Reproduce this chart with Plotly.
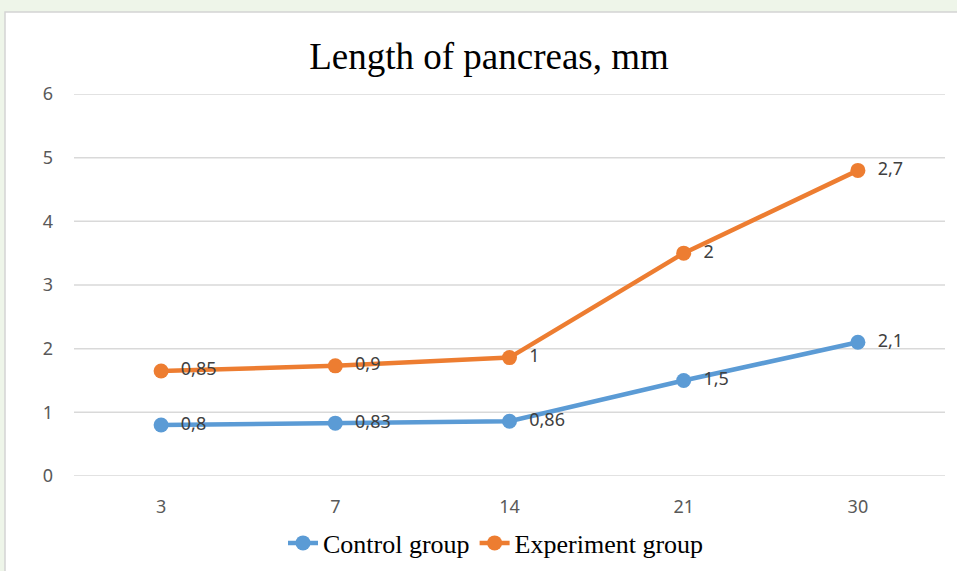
import plotly.graph_objects as go
import numpy as np

days = ["3", "7", "14", "21", "30"]
control = [0.8, 0.83, 0.86, 1.5, 2.1]
experiment = [0.85, 0.9, 1.0, 2.0, 2.7]
y_ticks = [0, 1, 2, 3, 4, 5, 6]
title_text = "Length of pancreas, mm"

def fmt(v):
    s = ("%g" % v).replace(".", ",")
    return "  " + s

# stacked line chart (as in the original spreadsheet chart)
stack_control = np.array(control)
stack_experiment = stack_control + np.array(experiment)

blue = "#5B9BD5"
orange = "#ED7D31"
sans = "Noto Sans, Open Sans, sans-serif"
serif = "Liberation Serif, Times New Roman, serif"
label_font = dict(family=sans, size=18, color="#404040")

fig = go.Figure()
fig.add_trace(go.Scatter(
    x=days, y=stack_control, name="Control group", mode="lines+markers+text",
    line=dict(color=blue, width=4.5), marker=dict(color=blue, size=15),
    text=[fmt(v) for v in control], textposition="middle right", textfont=label_font,
    cliponaxis=False,
))
fig.add_trace(go.Scatter(
    x=days, y=stack_experiment, name="Experiment group", mode="lines+markers+text",
    line=dict(color=orange, width=4.5), marker=dict(color=orange, size=15),
    text=[fmt(v) for v in experiment], textposition="middle right", textfont=label_font,
    cliponaxis=False,
))

# white chart card on light background
L, R, T, B = 74, 12, 94, 95
W, H = 957, 571
pw = W - L - R
ph = H - T - B
def px_x(x): return (x - L) / pw
def px_y(y): return (H - B - y) / ph
fig.add_shape(type="rect", xref="paper", yref="paper",
              x0=px_x(5), x1=px_x(990), y0=px_y(12), y1=px_y(600),
              fillcolor="white", line=dict(color="#d4d4d4", width=1.5), layer="below")

# horizontal gridlines at every y tick (including the range ends)
for v in y_ticks:
    fig.add_shape(type="line", xref="paper", yref="y", x0=0, x1=1, y0=v, y1=v,
                  line=dict(color="#d9d9d9", width=1.5), layer="below")

fig.update_layout(
    width=W, height=H,
    margin=dict(l=L, r=R, t=T, b=B, autoexpand=False),
    paper_bgcolor="#eef5e9",
    plot_bgcolor="rgba(0,0,0,0)",
    title=dict(text=title_text, x=489 / W, xanchor="center", y=1 - 56 / H, yanchor="middle",
               font=dict(family=serif, size=37, color="black")),
    legend=dict(orientation="h", x=(496 - L) / pw, xanchor="center", y=px_y(543), yanchor="middle",
                font=dict(family=serif, size=26, color="black"),
                bgcolor="rgba(0,0,0,0)", itemwidth=30, tracegroupgap=0),
    showlegend=True,
)
fig.update_xaxes(type="category", range=[-0.5, 4.5], showgrid=False, showline=False, ticks="",
                 automargin=False,
                 tickfont=dict(family=sans, size=18, color="#595959"),
                 ticklabelstandoff=18)
fig.update_yaxes(range=[0, 6], tickvals=y_ticks, showgrid=False,
                 zeroline=False, showline=False, ticks="", automargin=False,
                 tickfont=dict(family=sans, size=18, color="#595959"),
                 ticklabelstandoff=20)

fig.write_html("out.html", config={"displayModeBar": False},
               post_script="document.body.style.margin='0px';document.body.style.overflow='hidden';")
